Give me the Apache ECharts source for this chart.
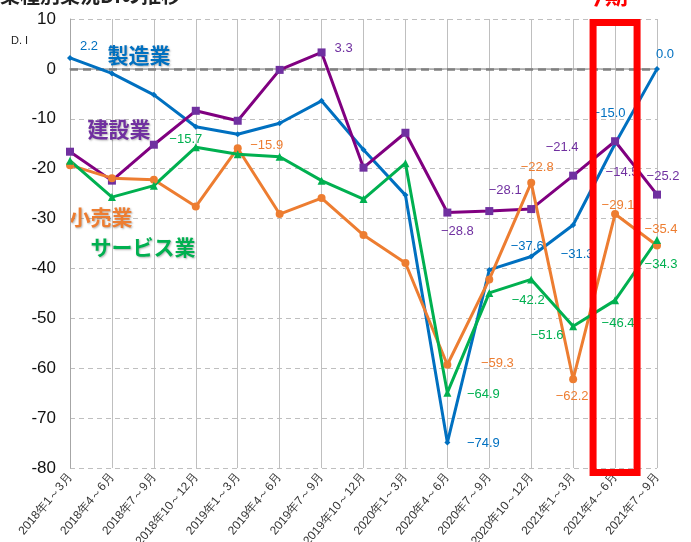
<!DOCTYPE html>
<html>
<head>
<meta charset="utf-8">
<script src="https://cdn.jsdelivr.net/npm/echarts@6/dist/echarts.min.js"></script>
<style>html,body{margin:0;padding:0;background:#fff}#c{width:691px;height:542px}</style>
</head>
<body>
<div id="c"></div>
<script>
const categories = ['2018年1～3月','2018年4～6月','2018年7～9月','2018年10～12月','2019年1～3月','2019年4～6月','2019年7～9月','2019年10～12月','2020年1～3月','2020年4～6月','2020年7～9月','2020年10～12月','2021年1～3月','2021年4～6月','2021年7～9月'];
const manufacturing = [2.2,-0.9,-5.2,-11.6,-13.1,-10.9,-6.4,-16.2,-25.3,-74.9,-40.3,-37.6,-31.3,-15.0,0.0];
const construction = [-16.6,-22.4,-15.2,-8.4,-10.4,-0.2,3.3,-19.8,-12.8,-28.8,-28.5,-28.1,-21.4,-14.5,-25.2];
const retail = [-19.3,-21.9,-22.2,-27.6,-15.9,-29.1,-25.9,-33.3,-38.9,-59.3,-42.2,-22.8,-62.2,-29.1,-35.4];
const services = [-18.4,-25.7,-23.4,-15.7,-17.1,-17.6,-22.4,-26.1,-18.9,-64.9,-44.9,-42.2,-51.6,-46.4,-34.3];
const yTicks = [10,0,-10,-20,-30,-40,-50,-60,-70,-80];

// label placements (index -> offset from point), kept separate from values
const labelPos = {
  mfg: {0:[19,-11],9:[36,1],11:[-4,-10],12:[4,29],13:[-6,-30],14:[8,-14]},
  con: {6:[22,-4],9:[10,19],11:[-26,-19],12:[-11,-28],13:[7,31],14:[6,-18]},
  ret: {4:[29,-3],9:[50,-1],11:[6,-15],12:[-1,17],13:[3,-9],14:[4,-16]},
  svc: {3:[-10,-8],9:[36,2],11:[-3,21],12:[-26,9],13:[3,23],14:[4,24]}
};

const COLORS = {mfg:'#0070C0', con:'#7030A0', ret:'#ED7D31', svc:'#00B050'};
const LINECOLORS = {mfg:'#0070C0', con:'#800080', ret:'#ED7D31', svc:'#00B050'};
const FONT = '"Liberation Sans", Arial, sans-serif';
const JP = '"Noto Sans CJK JP", sans-serif';

function build(values, key){
  return values.map((v,i)=>{
    const p = labelPos[key][i];
    const item = {value:v};
    if (p) {
      item.label = {show:true, position:'inside', offset:p, align:'center', verticalAlign:'middle',
        color:COLORS[key], fontSize:13, fontFamily:FONT,
        formatter: (prm)=> (prm.value<0?'\u2212'+Math.abs(prm.value).toFixed(1):prm.value.toFixed(1))};
    }
    return item;
  });
}

function series(name,key,values,symbol,size){
  return {
    name, type:'line', data:build(values,key), symbol, symbolSize:size,
    lineStyle:{width:3,color:LINECOLORS[key]}, itemStyle:{color:COLORS[key]},
    label:{show:false}, z:3
  };
}

const chart = echarts.init(document.getElementById('c'));
const s = [
  series('製造業','mfg',manufacturing,'diamond',6),
  series('建設業','con',construction,'rect',8),
  series('小売業','ret',retail,'circle',8),
  series('サービス業','svc',services,'triangle',8)
];
s[0].markLine = {silent:true, symbol:'none', label:{show:false},
  lineStyle:{type:[8,5], color:'#808080', width:2.5}, data:[{yAxis:0}], z:2};

chart.setOption({
  animation:false,
  backgroundColor:'#fff',
  grid:{left:70,right:34,top:19,bottom:74, containLabel:false, outerBoundsMode:'none'},
  xAxis:{type:'category', data:categories, boundaryGap:false,
    axisLine:{lineStyle:{color:'#a6a6a6',width:1.5}}, axisTick:{show:false},
    splitLine:{show:true, lineStyle:{color:'#bfbfbf',width:1}},
    axisLabel:{rotate:50, fontSize:12, color:'#333', fontFamily:FONT, interval:0, margin:7}},
  yAxis:{type:'value', min:-80, max:10, interval:10,
    axisLine:{show:true, lineStyle:{color:'#a6a6a6',width:1}}, axisTick:{show:false},
    splitLine:{show:true, lineStyle:{color:'#bfbfbf', type:[5,4], width:1}},
    axisLabel:{fontSize:17, color:'#111', fontFamily:FONT, margin:14,
      formatter:(v)=> yTicks.includes(v)? String(v):''}},
  series:s
});

const x13 = chart.convertToPixel({xAxisIndex:0}, categories[13]);
const yTop = chart.convertToPixel({yAxisIndex:0}, 10);
const yBot = chart.convertToPixel({yAxisIndex:0}, -80);

const shadow = {textShadowColor:'rgba(0,0,0,0.3)', textShadowBlur:2, textShadowOffsetX:1, textShadowOffsetY:1};
chart.setOption({graphic:[
  {type:'text', left:0, top:-15, style:{text:'業種別業況DIの推移', fontSize:20, fontWeight:'bold', fill:'#222', fontFamily:JP}},
  {type:'text', x:x13-10, y:-16, style:{text:'今期', fontSize:23, fontWeight:'bold', fill:'#FF0000', align:'center', fontFamily:JP}},
  {type:'rect', shape:{x:x13-22, y:yTop+3.5, width:44, height:(yBot-yTop)+1}, style:{fill:'none', stroke:'#FF0000', lineWidth:7}, z:10},
  {type:'text', x:11, y:35, style:{text:'D. I', fontSize:11, fill:'#222', fontFamily:FONT}},
  {type:'text', x:139, y:55, style:Object.assign({text:'製造業', fontSize:21, fontWeight:'bold', fill:COLORS.mfg, align:'center', verticalAlign:'middle', fontFamily:JP}, shadow)},
  {type:'text', x:119, y:129, style:Object.assign({text:'建設業', fontSize:21, fontWeight:'bold', fill:COLORS.con, align:'center', verticalAlign:'middle', fontFamily:JP}, shadow)},
  {type:'text', x:101, y:217, style:Object.assign({text:'小売業', fontSize:21, fontWeight:'bold', fill:COLORS.ret, align:'center', verticalAlign:'middle', fontFamily:JP}, shadow)},
  {type:'text', x:143, y:247, style:Object.assign({text:'サービス業', fontSize:21, fontWeight:'bold', fill:COLORS.svc, align:'center', verticalAlign:'middle', fontFamily:JP}, shadow)}
]});
</script>
</body>
</html>
